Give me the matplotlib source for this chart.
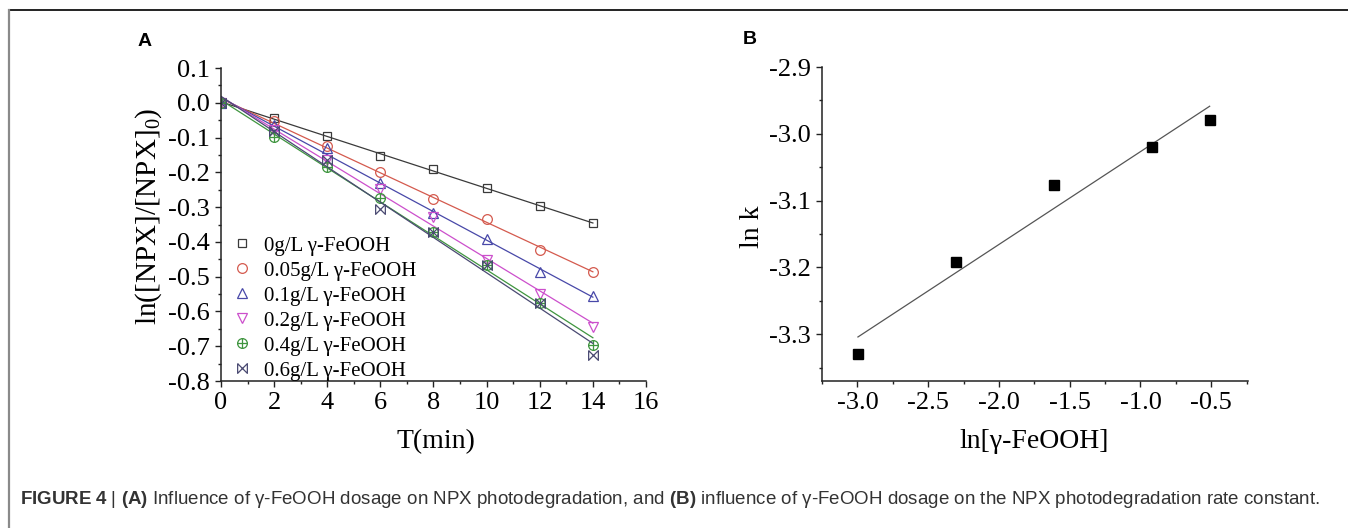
import numpy as np
import matplotlib
matplotlib.use('Agg')
import matplotlib.pyplot as plt
from matplotlib.path import Path
from matplotlib.lines import Line2D
from matplotlib.ticker import MultipleLocator

plt.rcParams['font.family'] = ['Liberation Serif', 'DejaVu Serif']
plt.rcParams['mathtext.fontset'] = 'custom'
plt.rcParams['mathtext.rm'] = 'Liberation Serif'
plt.rcParams['mathtext.it'] = 'Liberation Serif:italic'
plt.rcParams['mathtext.bf'] = 'Liberation Sans:bold'

# ---------------- datos panel A ----------------
t = [0, 2, 4, 6, 8, 10, 12, 14]
c_0 = [0, -0.044, -0.095, -0.153, -0.191, -0.246, -0.296, -0.347]
c_005 = [0, -0.051, -0.123, -0.200, -0.278, -0.335, -0.423, -0.486]
c_01 = [0, -0.064, -0.129, -0.232, -0.316, -0.393, -0.487, -0.556]
c_02 = [0, -0.078, -0.165, -0.249, -0.327, -0.452, -0.551, -0.644]
c_04 = [0, -0.099, -0.186, -0.275, -0.373, -0.466, -0.577, -0.696]
c_06 = [0, -0.081, -0.165, -0.306, -0.373, -0.466, -0.577, -0.725]
etiquetas = ['0g/L γ-FeOOH', '0.05g/L γ-FeOOH', '0.1g/L γ-FeOOH',
             '0.2g/L γ-FeOOH', '0.4g/L γ-FeOOH', '0.6g/L γ-FeOOH']

# ---------------- datos panel B ----------------
ln_dosis = [-2.996, -2.303, -1.609, -0.916, -0.511]
ln_k = [-3.330, -3.192, -3.077, -3.019, -2.979]

# marcadores especiales (circulo con cruz y "corbata")
circ_cruz = Path.make_compound_path(
    Path.unit_circle(),
    Path([(-1, 0), (1, 0), (0, -1), (0, 1)],
         [Path.MOVETO, Path.LINETO, Path.MOVETO, Path.LINETO]))
corbata = [(-1, 1), (1, -1), (1, 1), (-1, -1), (-1, 1)]

series = [c_0, c_005, c_01, c_02, c_04, c_06]
colores = ['#3a3a3a', '#d45a4e', '#4848a8', '#cc4fcc', '#3f953f', '#4a4a72']
marcas = ['s', 'o', '^', 'v', circ_cruz, corbata]
tamanos = [6, 7, 7, 7, 7, 7]

fig = plt.figure(figsize=(13.48, 5.28), dpi=100)

def estilo_ejes(ax):
    for s in ['top', 'right']:
        ax.spines[s].set_visible(False)
    for s in ['left', 'bottom']:
        ax.spines[s].set_linewidth(1.1)
        ax.spines[s].set_color('#222222')
    ax.tick_params(which='major', direction='out', length=4, width=1,
                   labelsize=19, pad=4, colors='#222222')
    ax.tick_params(which='minor', direction='out', length=2.5, width=1,
                   colors='#222222')

# ================= panel A =================
axA = fig.add_axes([221/1348, 147/528, 425/1348, 313/528])
manijas = []
for y, col, m, ms, lab in zip(series, colores, marcas, tamanos, etiquetas):
    p = np.polyfit(t, y, 1)
    tt = np.array([t[0], t[-1]])
    axA.plot(tt, np.polyval(p, tt), color=col, lw=0.9)
    h, = axA.plot(t, y, ls='none', marker=m, ms=ms, mfc='none',
                  mec=col, mew=0.9, label=lab)
    manijas.append(h)

axA.set_xlim(0, 16)
axA.set_ylim(-0.8, 0.1)
axA.set_xticks(range(0, 17, 2))
yt = np.round(np.arange(-0.8, 0.11, 0.1), 1)
axA.set_yticks(yt)
axA.xaxis.set_minor_locator(MultipleLocator(1))
axA.yaxis.set_minor_locator(MultipleLocator(0.05))
estilo_ejes(axA)
axA.set_yticklabels(['%.1f' % abs(v) if v == 0 else '%.1f' % v for v in yt])
for lab in axA.get_xticklabels() + axA.get_yticklabels():
    lab.set_color('black')
axA.set_xlabel('T(min)', fontsize=20, va='center')
axA.xaxis.set_label_coords(0.505, -0.195)
axA.set_ylabel('ln([NPX]/[NPX]$_0$)', fontsize=21, va='center')
axA.yaxis.set_label_coords(-0.17, 0.527)

axA.legend(handles=manijas, loc='upper left',
           bbox_to_anchor=(232/1348, 1 - 236/528),
           bbox_transform=fig.transFigure, frameon=False, fontsize=15,
           handlelength=1.0, handletextpad=0.55, labelspacing=0.26,
           borderpad=0, borderaxespad=0)

# ================= panel B =================
axB = fig.add_axes([822/1348, 147/528, 426/1348, 314/528])
pB = np.polyfit(ln_dosis, ln_k, 1)
xx = np.array([min(ln_dosis), max(ln_dosis)])
axB.plot(xx, np.polyval(pB, xx), color='#555555', lw=0.9)
axB.plot(ln_dosis, ln_k, ls='none', marker='s', ms=6.5, color='black')
axB.set_xlim(-3.25, -0.24)
axB.set_ylim(-3.37, -2.9)
axB.set_xticks([-3.0, -2.5, -2.0, -1.5, -1.0, -0.5])
axB.set_yticks([-3.3, -3.2, -3.1, -3.0, -2.9])
axB.xaxis.set_minor_locator(MultipleLocator(0.25))
axB.yaxis.set_minor_locator(MultipleLocator(0.05))
estilo_ejes(axB)
axB.set_xticklabels(['-3.0', '-2.5', '-2.0', '-1.5', '-1.0', '-0.5'])
axB.set_yticklabels(['-3.3', '-3.2', '-3.1', '-3.0', '-2.9'])
for lab in axB.get_xticklabels() + axB.get_yticklabels():
    lab.set_color('black')
axB.set_xlabel('ln[γ-FeOOH]', fontsize=20, va='center')
axB.xaxis.set_label_coords(0.498, -0.194)
axB.set_ylabel('ln k', fontsize=20, va='center')
axB.yaxis.set_label_coords(-0.164, 0.49)

# letras de panel
fig.text(145/1348, 1 - 42/528, 'A', family='Liberation Sans',
         fontweight='bold', fontsize=14, ha='center', va='center')
fig.text(750/1348, 1 - 40/528, 'B', family='Liberation Sans',
         fontweight='bold', fontsize=14, ha='center', va='center')

# marco y pie de figura
fig.add_artist(Line2D([9/1348, 1], [1 - 10/528, 1 - 10/528],
                      transform=fig.transFigure, color='#222222', lw=1.4))
fig.add_artist(Line2D([9/1348, 9/1348], [0, 1 - 10/528],
                      transform=fig.transFigure, color='#8a8a8a', lw=1.6))
fig.text(20/1348, 1 - 499/528,
         r'$\mathbf{FIGURE\ 4}$ | $\mathbf{(A)}$ Influence of γ-FeOOH dosage on NPX '
         r'photodegradation, and $\mathbf{(B)}$ influence of γ-FeOOH dosage on the '
         r'NPX photodegradation rate constant.',
         family='Liberation Sans', fontsize=13.5, color='#333333',
         ha='left', va='center')

fig.savefig('out.png', dpi=100)
